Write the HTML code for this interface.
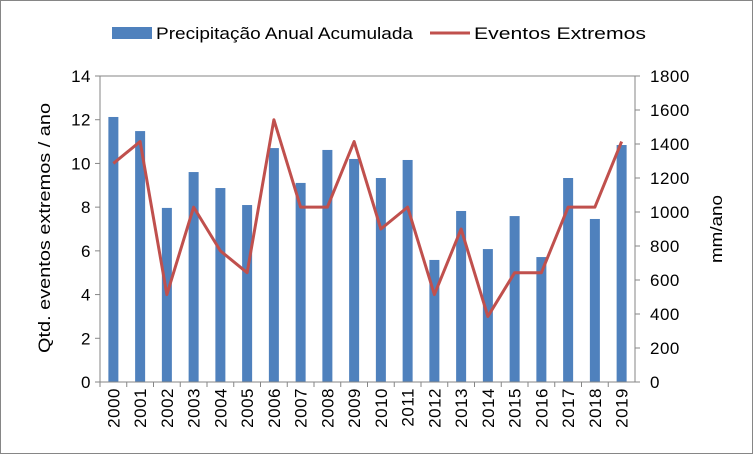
<!DOCTYPE html>
<html><head><meta charset="utf-8"><style>
body{margin:0;background:#fff;}
svg{display:block;font-family:"Liberation Sans",sans-serif;}
</style></head><body>
<svg id="chart" width="753" height="454" viewBox="0 0 753 454" xmlns="http://www.w3.org/2000/svg">
<rect x="0.5" y="0.5" width="752" height="453" fill="#fff" stroke="#868686"/>
<g id="grid"></g><g id="bars"></g><g id="line"></g><g id="axes"></g>
<g>
<rect x="112" y="27" width="40" height="12" fill="#4f81bd"/>
<text x="156" y="39" font-size="17" fill="#000" textLength="257" lengthAdjust="spacingAndGlyphs">Precipitação Anual Acumulada</text>
<line x1="430" y1="33" x2="470" y2="33" stroke="#c0504d" stroke-width="3"/>
<text x="474" y="39" font-size="17" fill="#000" textLength="172" lengthAdjust="spacingAndGlyphs">Eventos Extremos</text>
</g>
<text transform="translate(50,228) rotate(-90)" text-anchor="middle" font-size="17" textLength="250" lengthAdjust="spacingAndGlyphs">Qtd. eventos extremos / ano</text>
<text transform="translate(722,229) rotate(-90)" text-anchor="middle" font-size="17" textLength="68" lengthAdjust="spacingAndGlyphs">mm/ano</text>
</svg>
<script>
const years=["2000","2001","2002","2003","2004","2005","2006","2007","2008","2009","2010","2011","2012","2013","2014","2015","2016","2017","2018","2019"];
const precip=[1559,1476,1024,1235,1141,1041,1376,1171,1365,1312,1200,1306,718,1006,782,976,735,1200,959,1394];
const events=[10,11,4,8,6,5,12,8,8,11,7,8,4,7,3,5,5,8,8,11];
const leftTicks=[0,2,4,6,8,10,12,14];
const rightTicks=[0,200,400,600,800,1000,1200,1400,1600,1800];
const X0=100,X1=635,Y0=382,Y1=76;
const band=(X1-X0)/years.length;
const xc=i=>X0+band*(i+0.5);
const yL=v=>Y0-(v/14)*(Y0-Y1);
const yR=v=>Y0-(v/1800)*(Y0-Y1);
const NS="http://www.w3.org/2000/svg";
function mk(t,a,p){const e=document.createElementNS(NS,t);for(const k in a)e.setAttribute(k,a[k]);p.appendChild(e);return e;}
const bars=document.getElementById('bars'),line=document.getElementById('line'),axes=document.getElementById('axes');
precip.forEach((v,i)=>{
 const r=mk('rect',{x:xc(i)-5,y:yR(v),width:10,height:Y0-yR(v),fill:'#4f81bd'},bars);
 
 
});
const pl=mk('polyline',{points:events.map((v,i)=>xc(i)+','+yL(v)).join(' '),fill:'none',stroke:'#c0504d','stroke-width':3,'stroke-linejoin':'round'},line);


const frame=mk('rect',{x:X0,y:Y1,width:X1-X0,height:Y0-Y1,fill:'none',stroke:'#868686'},axes);


leftTicks.forEach(v=>{
 mk('line',{x1:X0-5,x2:X0,y1:yL(v),y2:yL(v),stroke:'#868686'},axes);
 const t=mk('text',{x:X0-9,y:yL(v)+6,'text-anchor':'end','font-size':17,'letter-spacing':'0.5'},axes);t.textContent=v;
 
 
});
rightTicks.forEach(v=>{
 mk('line',{x1:X1,x2:X1+5,y1:yR(v),y2:yR(v),stroke:'#868686'},axes);
 const t=mk('text',{x:X1+15,y:yR(v)+6,'font-size':17,'letter-spacing':'0.5'},axes);t.textContent=v;
 
 
});
years.forEach((y,i)=>{
 mk('line',{x1:X0+band*i,x2:X0+band*i,y1:Y0,y2:Y0+5,stroke:'#868686'},axes);
 const t=mk('text',{transform:`translate(${xc(i)+6},${Y0+6}) rotate(-90)`,'text-anchor':'end','font-size':17,'letter-spacing':'0.5'},axes);t.textContent=y;
 
 
});
</script>
</body></html>
